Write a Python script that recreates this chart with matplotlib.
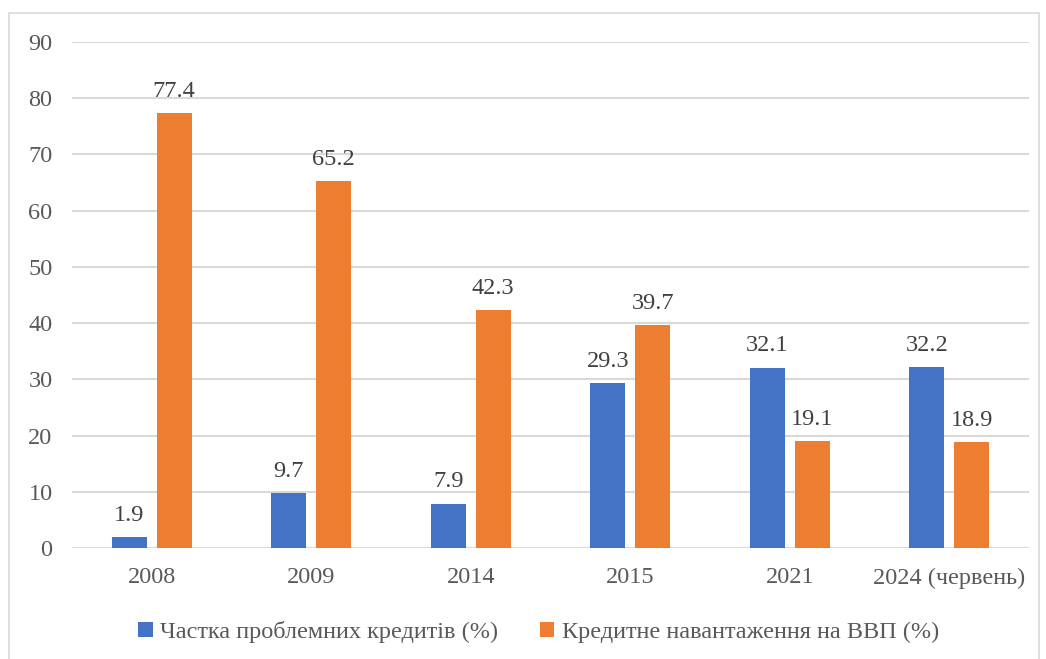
import numpy as np
import matplotlib.pyplot as plt
from matplotlib.patches import Rectangle

# data
years = ['2008', '2009', '2014', '2015', '2021', '2024 (червень)']
bad_loans = [1.9, 9.7, 7.9, 29.3, 32.1, 32.2]
credit_gdp = [77.4, 65.2, 42.3, 39.7, 19.1, 18.9]
series_names = ['Частка проблемних кредитів (%)', 'Кредитне навантаження на ВВП (%)']

plt.rcParams['font.family'] = ['Liberation Serif', 'DejaVu Serif']
grey = '#595959'
fs = 17.5

fig = plt.figure(figsize=(10.46, 6.59), dpi=100)
ax = fig.add_axes([0.0688, 0.1684, 0.9149, 0.7679])

x = np.arange(len(years))
w = 0.22
off = 0.141
b1 = ax.bar(x - off, bad_loans, w, color='#4472c4', label=series_names[0], zorder=3)
b2 = ax.bar(x + off, credit_gdp, w, color='#ed7d31', label=series_names[1], zorder=3)

for bars in (b1, b2):
    for r in bars:
        ax.annotate(f'{r.get_height():.1f}', (r.get_x() + r.get_width() / 2, r.get_height()),
                    xytext=(0, 8), textcoords='offset points', ha='center', va='bottom',
                    fontsize=fs, color='#404040')

ax.set_xlim(-0.5, len(years) - 0.5)
ax.set_ylim(0, 90)
ax.set_yticks(range(0, 91, 10))
ax.set_xticks(x)
ax.set_xticklabels(years)
ax.tick_params(axis='both', length=0, labelsize=fs, labelcolor=grey)
ax.tick_params(axis='y', pad=14)
ax.tick_params(axis='x', pad=14)
ax.grid(axis='y', color='#d9d9d9', linewidth=1.5, zorder=0)
for s in ax.spines.values():
    s.set_visible(False)

leg = fig.legend(loc='center', bbox_to_anchor=(0.515, 0.041), ncol=2, frameon=False,
                 fontsize=fs, handlelength=0.6, handleheight=0.6, handletextpad=0.3,
                 columnspacing=1.7)
for t in leg.get_texts():
    t.set_color(grey)

# chart-area border like the Excel frame
fig.patches.append(Rectangle((9 / 1046, -0.01), 1030 / 1046, 1 - 13 / 659 + 0.01,
                             transform=fig.transFigure, fill=False, edgecolor='#d9d9d9',
                             linewidth=1.2))

fig.savefig('out.png', dpi=100)
